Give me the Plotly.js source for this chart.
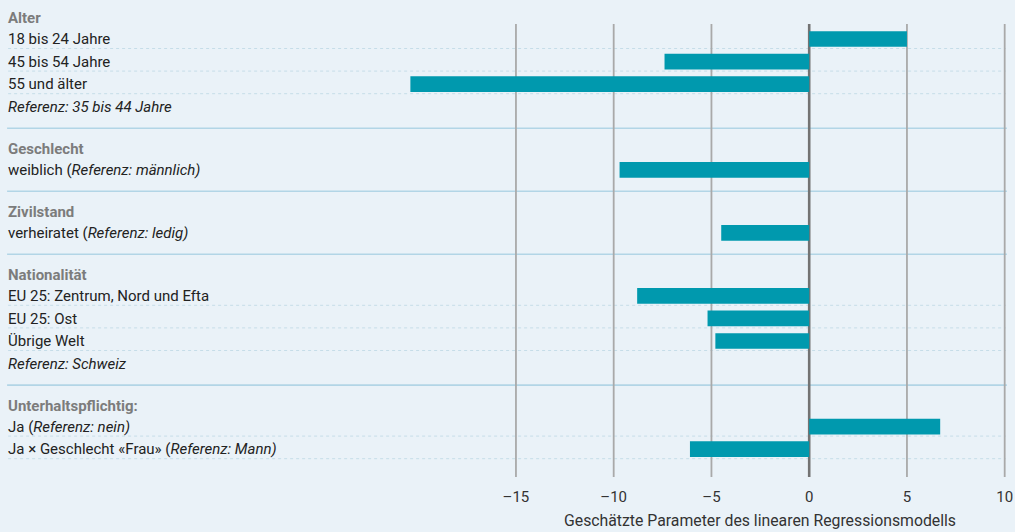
<!DOCTYPE html>
<html>
<head>
<meta charset="utf-8">
<script src="https://cdn.plot.ly/plotly-3.0.1.min.js"></script>
<style>
  html, body { margin: 0; padding: 0; background: #EAF2F8; }
  #chart { width: 1015px; height: 532px; }
</style>
</head>
<body>
<div id="chart"></div>
<script>
// ---- data ----
const rowLabels = [
  "Alter",
  "18 bis 24 Jahre",
  "45 bis 54 Jahre",
  "55 und älter",
  "<i>Referenz: 35 bis 44 Jahre</i>",
  "Geschlecht",
  "weiblich (<i>Referenz: männlich)</i>",
  "Zivilstand",
  "verheiratet (<i>Referenz: ledig)</i>",
  "Nationalität",
  "EU 25: Zentrum, Nord und Efta",
  "EU 25: Ost",
  "Übrige Welt",
  "<i>Referenz: Schweiz</i>",
  "Unterhaltspflichtig:",
  "Ja (<i>Referenz: nein)</i>",
  "Ja × Geschlecht «Frau» (<i>Referenz: Mann)</i>"
];
const rowKinds = ["h","i","i","i","r","h","i","h","i","h","i","i","i","r","h","i","i"];
const values = [null, 5.0, -7.4, -20.4, null, null, -9.7, null, -4.5, null, -8.8, -5.2, -4.8, null, null, 6.7, -6.1];
const xTicks = [-15, -10, -5, 0, 5, 10];
const xTitle = "Geschätzte Parameter des linearen Regressionsmodells";

// ---- layout geometry (pixel-like units on the y axis) ----
const plotH = 477;
const pos = [];
const seps = [];
for (let i = 0; i < rowKinds.length; i++) {
  if (i === 0) { pos.push(18); continue; }
  const prev = pos[i - 1];
  if (rowKinds[i] === "h") { seps.push(prev + 21.5); pos.push(prev + 42); }
  else if (rowKinds[i - 1] === "h") pos.push(prev + 21);
  else pos.push(prev + 22.6);
}

const ticktext = rowLabels.map((t, i) =>
  rowKinds[i] === "h" ? '<span style="color:#7c7c7c"><b>' + t + '</b></span>' : t);

const barY = [], barX = [];
values.forEach((v, i) => { if (v !== null) { barY.push(pos[i]); barX.push(v); } });

const shapes = [];
// vertical gridlines
xTicks.forEach(t => {
  shapes.push({
    type: "line", layer: "below", xref: "x", yref: "y",
    x0: t, x1: t, y0: 24, y1: plotH,
    line: { color: t === 0 ? "#737373" : "#a9a9a9", width: t === 0 ? 2.6 : 1.8 }
  });
});
// solid group separators
seps.forEach(s => {
  shapes.push({
    type: "line", layer: "below", xref: "paper", yref: "y",
    x0: 0.007, x1: 0.992, y0: s, y1: s,
    line: { color: "#b2d5e6", width: 1.6 }
  });
});
// dotted row separators
values.forEach((v, i) => {
  if (v === null) return;
  const next = rowKinds[i + 1];
  if (next === "h") return;
  const yy = pos[i] + 9.5;
  shapes.push({
    type: "line", layer: "below", xref: "paper", yref: "y",
    x0: 0.008, x1: 0.991, y0: yy, y1: yy,
    line: { color: "#c6dde8", width: 1, dash: "dot" }
  });
});

// x scale: 0 at 809.2 px, 19.55 px per unit, plot spans full width
const pxPerUnit = 19.55, zeroPx = 809.2, W = 1015;
const xRange = [-zeroPx / pxPerUnit, (W - zeroPx) / pxPerUnit];

const trace = {
  type: "bar", orientation: "h",
  x: barX, y: barY, width: 15.7,
  marker: { color: "#0099ae", line: { width: 0 } },
  hoverinfo: "skip"
};

const layout = {
  width: 1015, height: 532,
  margin: { l: 0, r: 0, t: 0, b: 532 - plotH },
  paper_bgcolor: "#EAF2F8", plot_bgcolor: "#EAF2F8",
  showlegend: false,
  font: { family: "Roboto, 'Open Sans', sans-serif", color: "#222" },
  xaxis: {
    range: xRange, showgrid: false, zeroline: false, showline: false,
    tickvals: xTicks, ticktext: xTicks.map(t => t < 0 ? "\u2013" + Math.abs(t) : String(t)),
    ticks: "", ticklabelstandoff: 9,
    tickfont: { size: 15, color: "#333" }, fixedrange: true
  },
  yaxis: {
    range: [plotH, 0], showgrid: false, zeroline: false, showline: false,
    tickvals: pos, ticktext: ticktext,
    ticklabelposition: "inside", ticks: "", ticklabelstandoff: 5,
    tickfont: { size: 15, color: "#222" }, fixedrange: true
  },
  shapes: shapes,
  annotations: [{
    xref: "x", yref: "paper", x: (xTicks[0] + xTicks[xTicks.length - 1]) / 2, y: -0.092,
    yanchor: "middle", xanchor: "center", showarrow: false,
    text: xTitle, font: { size: 15.8, color: "#333" }
  }]
};

Plotly.newPlot("chart", [trace], layout, { displayModeBar: false, staticPlot: true });
</script>
</body>
</html>
